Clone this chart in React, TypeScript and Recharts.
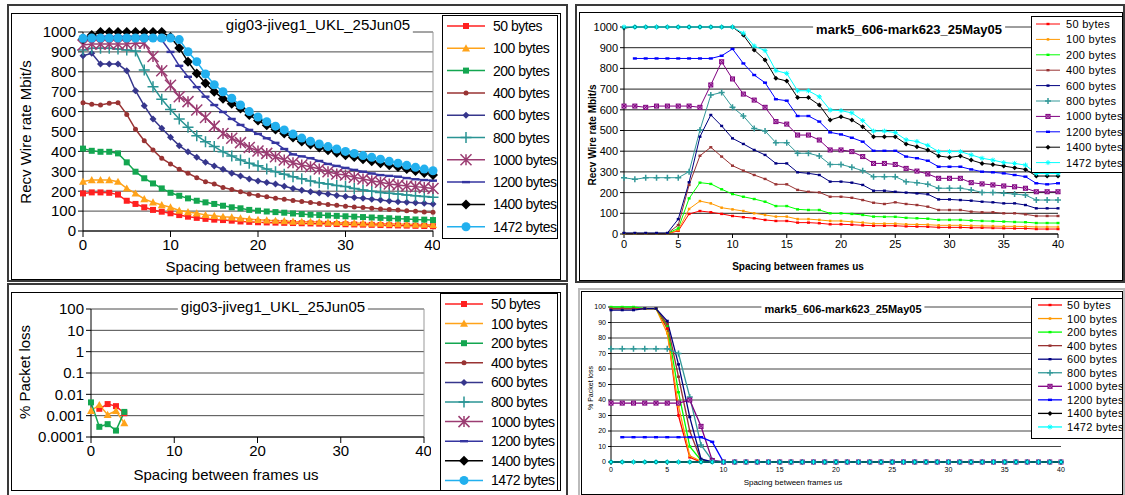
import React from 'react';
import { LineChart, Line, XAxis, YAxis, CartesianGrid, ReferenceLine } from 'recharts';

const FONT = '"Liberation Sans", Arial, Helvetica, sans-serif';

// x values: spacing between frames (us)
const spacing = [0, 1, 2, 3, 4, 5, 6, 7, 8, 9, 10, 11, 12, 13, 14, 15, 16, 17, 18, 19, 20, 21, 22, 23, 24, 25, 26, 27, 28, 29, 30, 31, 32, 33, 34, 35, 36, 37, 38, 39, 40];
const lossSpacing = [0, 1, 2, 3, 4];
const sizeLabels = ['50 bytes', '100 bytes', '200 bytes', '400 bytes', '600 bytes', '800 bytes', '1000 bytes', '1200 bytes', '1400 bytes', '1472 bytes'];
const keys = ['b50', 'b100', 'b200', 'b400', 'b600', 'b800', 'b1000', 'b1200', 'b1400', 'b1472'];

// gig03-jiveg1_UKL_25Jun05 : Recv wire rate (Mbit/s)
const gigRate50 = [189, 194, 194, 192, 183, 152, 136, 119, 106, 97, 89, 80, 72, 66, 61, 57, 55, 52, 48, 46, 44, 43, 42, 41, 40, 39, 38, 37, 36, 35, 34, 33, 32, 31, 30, 29, 28, 27, 26, 25, 24];
const gigRate100 = [249, 256, 256, 256, 248, 214, 189, 161, 144, 131, 119, 103, 95, 89, 81, 77, 72, 69, 64, 60, 56, 54, 52, 50, 48, 47, 46, 45, 43, 42, 41, 40, 39, 38, 37, 36, 35, 34, 33, 32, 31];
const gigRate200 = [414, 403, 398, 398, 390, 345, 298, 265, 239, 214, 192, 177, 164, 152, 144, 136, 127, 119, 114, 106, 102, 98, 95, 92, 88, 85, 82, 80, 78, 76, 74, 72, 70, 68, 66, 64, 62, 60, 58, 57, 55];
const gigRate400 = [645, 637, 633, 642, 645, 586, 511, 454, 407, 365, 337, 310, 290, 268, 248, 236, 219, 209, 197, 186, 178, 172, 165, 159, 153, 148, 143, 138, 133, 129, 125, 121, 118, 114, 111, 108, 105, 102, 99, 96, 94];
const gigRate600 = [881, 893, 839, 839, 839, 805, 705, 630, 563, 516, 471, 429, 398, 370, 345, 327, 310, 290, 276, 261, 251, 244, 236, 225, 214, 205, 197, 191, 186, 179, 173, 168, 164, 160, 156, 151, 147, 145, 142, 139, 136];
const gigRate800 = [910, 918, 918, 918, 915, 910, 904, 809, 725, 662, 611, 563, 521, 479, 449, 424, 398, 377, 357, 340, 328, 311, 298, 285, 273, 262, 251, 243, 236, 229, 223, 214, 206, 200, 194, 190, 186, 181, 177, 173, 169];
const gigRate1000 = [935, 940, 940, 940, 940, 940, 945, 943, 877, 805, 732, 675, 650, 608, 570, 527, 490, 466, 444, 420, 402, 390, 373, 357, 343, 332, 323, 312, 298, 286, 281, 270, 261, 253, 245, 236, 231, 226, 223, 218, 214];
const gigRate1200 = [975, 978, 978, 978, 978, 978, 978, 978, 975, 960, 900, 830, 775, 723, 675, 633, 598, 563, 533, 508, 488, 466, 443, 412, 385, 375, 366, 352, 337, 327, 317, 307, 298, 289, 281, 277, 273, 266, 260, 256, 253];
const gigRate1400 = [965, 985, 1000, 1000, 1000, 1000, 1000, 1000, 1000, 1000, 975, 920, 851, 792, 742, 700, 665, 640, 615, 583, 555, 532, 510, 490, 470, 450, 435, 420, 406, 393, 381, 372, 361, 351, 341, 331, 322, 312, 302, 292, 282];
const gigRate1472 = [968, 970, 970, 970, 970, 970, 970, 970, 970, 970, 970, 962, 901, 851, 789, 735, 700, 667, 633, 600, 573, 549, 527, 508, 487, 467, 451, 437, 424, 412, 400, 390, 379, 370, 361, 350, 341, 330, 320, 311, 303];

// gig03-jiveg1_UKL_25Jun05 : % packet loss
const gigLoss50 = [null, 0.0021, 0.0035, 0.0028, 0.0013];
const gigLoss100 = [0.0017, 0.0032, 0.0011, 0.0017, 0.00045];
const gigLoss200 = [0.0042, 0.0003, 0.0004, 0.0002, 0.0015];

// mark5_606-mark623_25May05 : Recv wire rate (Mbit/s)
const markRate50 = [2, 2, 2, 2, 2, 15, 97, 111, 105, 97, 87, 81, 76, 68, 63, 63, 55, 55, 52, 47, 47, 45, 42, 40, 40, 40, 37, 36, 35, 32, 32, 32, 30, 30, 29, 28, 27, 27, 24, 24, 24];
const markRate100 = [2, 2, 2, 2, 2, 19, 121, 159, 148, 127, 119, 111, 100, 92, 84, 84, 72, 72, 68, 63, 63, 59, 55, 50, 50, 50, 47, 46, 45, 42, 42, 42, 40, 39, 38, 37, 37, 36, 34, 34, 34];
const markRate200 = [3, 3, 3, 3, 3, 27, 172, 248, 242, 216, 193, 180, 169, 156, 135, 135, 119, 116, 116, 100, 100, 97, 92, 84, 83, 83, 78, 76, 74, 68, 68, 68, 65, 63, 62, 60, 58, 57, 53, 53, 53];
const markRate400 = [3, 3, 3, 3, 3, 43, 237, 378, 419, 374, 330, 306, 285, 266, 240, 240, 213, 204, 201, 180, 180, 175, 164, 151, 145, 153, 145, 140, 132, 116, 116, 116, 108, 105, 105, 100, 100, 95, 87, 87, 87];
const markRate600 = [5, 5, 5, 5, 5, 72, 250, 470, 575, 522, 462, 435, 406, 382, 341, 341, 298, 293, 285, 253, 253, 248, 237, 209, 209, 204, 200, 196, 192, 167, 167, 164, 161, 156, 153, 148, 148, 140, 124, 124, 124];
const markRate800 = [272, 264, 272, 272, 272, 272, 301, 502, 671, 684, 612, 570, 510, 498, 441, 441, 390, 390, 377, 336, 336, 322, 306, 277, 277, 277, 253, 248, 240, 221, 221, 221, 213, 201, 200, 197, 193, 188, 164, 164, 164];
const markRate1000 = [618, 618, 612, 618, 618, 618, 618, 612, 720, 832, 749, 676, 647, 612, 543, 531, 478, 478, 454, 406, 406, 398, 374, 341, 341, 336, 317, 304, 290, 269, 269, 269, 248, 242, 237, 232, 228, 221, 204, 204, 204];
const markRate1200 = [null, 848, 848, 848, 848, 848, 848, 848, 848, 861, 894, 824, 768, 731, 651, 644, 570, 570, 543, 491, 481, 465, 446, 402, 402, 402, 374, 366, 354, 325, 325, 325, 312, 301, 298, 293, 285, 277, 245, 240, 245];
const markRate1400 = [995, 1000, 1000, 1000, 1000, 1000, 1000, 1000, 1000, 1000, 1000, 961, 889, 841, 752, 739, 659, 659, 623, 551, 567, 551, 518, 470, 470, 470, 435, 422, 406, 377, 370, 377, 357, 341, 336, 328, 320, 312, 280, 280, 280];
const markRate1472 = [1000, 1000, 1000, 1000, 1000, 1000, 1000, 1000, 1000, 1000, 1000, 970, 908, 886, 789, 776, 692, 692, 663, 599, 596, 585, 548, 497, 497, 490, 455, 447, 428, 398, 398, 398, 382, 366, 357, 345, 341, 333, 292, 292, 292];

// mark5_606-mark623_25May05 : % packet loss
const markLoss50 = [99, 99, 99, 99, 99, 86, 30, 3, 0, 0, 0, 0, 0, 0, 0, 0, 0, 0, 0, 0, 0, 0, 0, 0, 0, 0, 0, 0, 0, 0, 0, 0, 0, 0, 0, 0, 0, 0, 0, 0, 0];
const markLoss100 = [99, 99, 99, 99, 99, 83, 36, 4, 0.5, 0, 0, 0, 0, 0, 0, 0, 0, 0, 0, 0, 0, 0, 0, 0, 0, 0, 0, 0, 0, 0, 0, 0, 0, 0, 0, 0, 0, 0, 0, 0, 0];
const markLoss200 = [100, 100, 100, 99, 99, 88, 45, 10, 1, 0, 0, 0, 0, 0, 0, 0, 0, 0, 0, 0, 0, 0, 0, 0, 0, 0, 0, 0, 0, 0, 0, 0, 0, 0, 0, 0, 0, 0, 0, 0, 0];
const markLoss400 = [99, 99, 99, 99, 99, 89, 55, 20, 1, 0, 0, 0, 0, 0, 0, 0, 0, 0, 0, 0, 0, 0, 0, 0, 0, 0, 0, 0, 0, 0, 0, 0, 0, 0, 0, 0, 0, 0, 0, 0, 0];
const markLoss600 = [98, 98, 98, 99, 99, 91, 63, 29, 2, 0, 0, 0, 0, 0, 0, 0, 0, 0, 0, 0, 0, 0, 0, 0, 0, 0, 0, 0, 0, 0, 0, 0, 0, 0, 0, 0, 0, 0, 0, 0, 0];
const markLoss800 = [73, 73, 73, 73, 73, 73, 70, 42, 11, 1, 0, 0, 0, 0, 0, 0, 0, 0, 0, 0, 0, 0, 0, 0, 0, 0, 0, 0, 0, 0, 0, 0, 0, 0, 0, 0, 0, 0, 0, 0, 0];
const markLoss1000 = [38, 38, 38, 38, 38, 38, 38, 40, 23, 1, 0, 0, 0, 0, 0, 0, 0, 0, 0, 0, 0, 0, 0, 0, 0, 0, 0, 0, 0, 0, 0, 0, 0, 0, 0, 0, 0, 0, 0, 0, 0];
const markLoss1200 = [null, 16, 16, 16, 16, 16, 16, 16, 16, 13, 0, 0, 0, 0, 0, 0, 0, 0, 0, 0, 0, 0, 0, 0, 0, 0, 0, 0, 0, 0, 0, 0, 0, 0, 0, 0, 0, 0, 0, 0, 0];
const markLoss1400 = [0, 0, 0, 0, 0, 0, 0, 0, 0, 0, 0, 0, 0, 0, 0, 0, 0, 0, 0, 0, 0, 0, 0, 0, 0, 0, 0, 0, 0, 0, 0, 0, 0, 0, 0, 0, 0, 0, 0, 0, 0];
const markLoss1472 = [0, 0, 0, 0, 0, 0, 0, 0, 0, 0, 0, 0, 0, 0, 0, 0, 0, 0, 0, 0, 0, 0, 0, 0, 0, 0, 0, 0, 0, 0, 0, 0, 0, 0, 0, 0, 0, 0, 0, 0, 0];

const rateTicksGig = [0, 100, 200, 300, 400, 500, 600, 700, 800, 900, 1000];
const lossTicksGig = [0.0001, 0.001, 0.01, 0.1, 1, 10, 100];
const lossTicksMark = [0, 10, 20, 30, 40, 50, 60, 70, 80, 90, 100];
const xTicksGig = [0, 10, 20, 30, 40];
const xTicksMark = [0, 5, 10, 15, 20, 25, 30, 35, 40];

type Shape = 'square' | 'triangle' | 'circle' | 'diamond' | 'plus' | 'star' | 'dash' | 'xbox' | 'asterisk';
interface SeriesStyle { color: string; shape: Shape; size: number }

const gigStyles: SeriesStyle[] = [
  { color: '#FF2020', shape: 'square', size: 6 },
  { color: '#FFA31A', shape: 'triangle', size: 8 },
  { color: '#13A650', shape: 'square', size: 6 },
  { color: '#993333', shape: 'circle', size: 5 },
  { color: '#36368C', shape: 'diamond', size: 7 },
  { color: '#2A9494', shape: 'plus', size: 11 },
  { color: '#9B3C72', shape: 'star', size: 11 },
  { color: '#3535A0', shape: 'dash', size: 8 },
  { color: '#000000', shape: 'diamond', size: 10 },
  { color: '#22B0EE', shape: 'circle', size: 9 },
];

const markStyles: SeriesStyle[] = [
  { color: '#FF0000', shape: 'dash', size: 3 },
  { color: '#FF9900', shape: 'square', size: 2.5 },
  { color: '#00FF00', shape: 'dash', size: 3 },
  { color: '#993333', shape: 'dash', size: 3 },
  { color: '#000080', shape: 'dash', size: 3 },
  { color: '#339999', shape: 'plus', size: 6 },
  { color: '#800080', shape: 'xbox', size: 4 },
  { color: '#0000FF', shape: 'dash', size: 4 },
  { color: '#000000', shape: 'diamond', size: 5 },
  { color: '#00FFFF', shape: 'asterisk', size: 5 },
];

function buildRows(xs: number[], cols: (number | null)[][]) {
  return xs.map((x, i) => {
    const r: Record<string, number | null> = { x };
    cols.forEach((c, k) => { r[keys[k]] = c[i] ?? null; });
    return r;
  });
}

const gigRateRows = buildRows(spacing, [gigRate50, gigRate100, gigRate200, gigRate400, gigRate600, gigRate800, gigRate1000, gigRate1200, gigRate1400, gigRate1472]);
const gigLossRows = buildRows(lossSpacing, [gigLoss50, gigLoss100, gigLoss200]);
const markRateRows = buildRows(spacing, [markRate50, markRate100, markRate200, markRate400, markRate600, markRate800, markRate1000, markRate1200, markRate1400, markRate1472]);
const markLossRows = buildRows(spacing, [markLoss50, markLoss100, markLoss200, markLoss400, markLoss600, markLoss800, markLoss1000, markLoss1200, markLoss1400, markLoss1472]);

function marker(s: SeriesStyle, cx: number, cy: number, key: string) {
  const h = s.size / 2;
  const c = s.color;
  switch (s.shape) {
    case 'square':
      return <rect key={key} x={cx - h} y={cy - h} width={s.size} height={s.size} fill={c} />;
    case 'triangle':
      return <polygon key={key} points={`${cx},${cy - h} ${cx + h},${cy + h * 0.8} ${cx - h},${cy + h * 0.8}`} fill={c} />;
    case 'circle':
      return <circle key={key} cx={cx} cy={cy} r={h} fill={c} />;
    case 'diamond':
      return <polygon key={key} points={`${cx},${cy - h} ${cx + h},${cy} ${cx},${cy + h} ${cx - h},${cy}`} fill={c} />;
    case 'plus':
      return <path key={key} d={`M${cx - h},${cy}H${cx + h}M${cx},${cy - h}V${cy + h}`} stroke={c} strokeWidth={1.5} />;
    case 'star':
      return <path key={key} d={`M${cx - h},${cy - h}L${cx + h},${cy + h}M${cx - h},${cy + h}L${cx + h},${cy - h}M${cx},${cy - h}V${cy + h}`} stroke={c} strokeWidth={1.5} fill="none" />;
    case 'asterisk':
      return <path key={key} d={`M${cx - h},${cy}H${cx + h}M${cx},${cy - h}V${cy + h}M${cx - h * 0.7},${cy - h * 0.7}L${cx + h * 0.7},${cy + h * 0.7}M${cx - h * 0.7},${cy + h * 0.7}L${cx + h * 0.7},${cy - h * 0.7}`} stroke={c} strokeWidth={1} fill="none" />;
    case 'xbox':
      return (
        <g key={key}>
          <rect x={cx - h} y={cy - h} width={s.size} height={s.size} fill="#D9A6D9" stroke={c} strokeWidth={1} />
          <path d={`M${cx - h},${cy - h}L${cx + h},${cy + h}M${cx - h},${cy + h}L${cx + h},${cy - h}`} stroke={c} strokeWidth={1} />
        </g>
      );
    case 'dash':
    default:
      return <rect key={key} x={cx - h} y={cy - 1.2} width={s.size} height={2.4} fill={c} />;
  }
}

const makeDot = (s: SeriesStyle, dataKey: string) => (p: any) => {
  const k = `${dataKey}-${p.index}`;
  const v = p.payload ? p.payload[dataKey] : null;
  if (v == null || p.cx == null || p.cy == null || Number.isNaN(p.cy)) return <g key={k} />;
  return marker(s, p.cx, p.cy, k);
};

function seriesLines(styles: SeriesStyle[], width: number) {
  return styles.map((s, i) => (
    <Line
      key={keys[i]}
      type="linear"
      dataKey={keys[i]}
      stroke={s.color}
      strokeWidth={width}
      dot={makeDot(s, keys[i])}
      activeDot={false}
      isAnimationActive={false}
    />
  ));
}

interface LegendProps {
  x: number; y: number; w: number; h: number;
  row0: number; gap: number; l1: number; l2: number; tx: number;
  fontSize: number; styles: SeriesStyle[]; lineWidth: number; spacingPx?: number;
}

function LegendBox({ x, y, w, h, row0, gap, l1, l2, tx, fontSize, styles, lineWidth, spacingPx = 0 }: LegendProps) {
  return (
    <svg style={{ position: 'absolute', left: x, top: y }} width={w} height={h}>
      <rect x={0.5} y={0.5} width={w - 1} height={h - 1} fill="#fff" stroke="#000" />
      {styles.map((s, i) => {
        const cy = row0 + i * gap;
        return (
          <g key={i}>
            <line x1={l1} x2={l2} y1={cy} y2={cy} stroke={s.color} strokeWidth={lineWidth} />
            {marker(s, (l1 + l2) / 2, cy, 'm' + i)}
            <text x={tx} y={cy} dominantBaseline="central" fontFamily={FONT} fontSize={fontSize} letterSpacing={spacingPx}>
              {sizeLabels[i]}
            </text>
          </g>
        );
      })}
    </svg>
  );
}

function Text({ x, y, size, bold, rotate, children, bg }: { x: number; y: number; size: number; bold?: boolean; rotate?: boolean; children: React.ReactNode; bg?: boolean }) {
  return (
    <div
      style={{
        position: 'absolute', left: x, top: y, fontFamily: FONT, fontSize: size, fontWeight: bold ? 700 : 400,
        whiteSpace: 'nowrap', lineHeight: 1.1, color: '#000',
        transform: `translate(-50%, -50%)${rotate ? ' rotate(-90deg)' : ''}`,
        background: bg ? '#fff' : 'transparent', padding: bg ? '0 3px' : 0,
      }}
    >
      {children}
    </div>
  );
}

function Frame({ x, y, w, h, width, color }: { x: number; y: number; w: number; h: number; width: number; color: string }) {
  return <div style={{ position: 'absolute', left: x, top: y, width: w, height: h, border: `${width}px solid ${color}`, boxSizing: 'border-box' }} />;
}

export default function App() {
  const tickGig = { fontSize: 15, fill: '#000', fontFamily: FONT };
  const tickMark = { fontSize: 11, fill: '#000', fontFamily: FONT };
  const tickLoss = { fontSize: 7, fill: '#000', fontFamily: FONT };
  return (
    <div style={{ position: 'absolute', left: 0, top: 0, width: 1125, height: 495, background: '#fff', overflow: 'hidden' }}>
      <Frame x={7} y={4} w={561} h={278} width={2} color="#3a3a3a" />
      <Frame x={11} y={13} w={550} h={267} width={1} color="#000" />
      <Frame x={7} y={283} w={561} h={214} width={2} color="#3a3a3a" />
      <Frame x={11} y={292} w={550} h={199} width={1} color="#000" />
      <Frame x={575} y={4} w={550} h={279} width={2} color="#3a3a3a" />
      <Frame x={579} y={12} w={544} h={269} width={1} color="#000" />
      <Frame x={578} y={288} w={547} h={209} width={2} color="#bbb" />
      <Frame x={581} y={291} w={542} h={204} width={1} color="#000" />

      {/* top left: gig03 wire rate */}
      <div style={{ position: 'absolute', left: 8, top: 5 }}>
        <LineChart width={432} height={270} data={gigRateRows} margin={{ top: 27, right: 7, bottom: 14, left: 0 }}>
          <CartesianGrid horizontal vertical={false} stroke="#4a4a4a" />
          <ReferenceLine x={40} stroke="#999" />
          <XAxis dataKey="x" type="number" domain={[0, 40]} ticks={xTicksGig} height={30} tick={tickGig} tickSize={6} stroke="#000" />
          <YAxis type="number" domain={[0, 1000]} ticks={rateTicksGig} width={75} tick={tickGig} tickSize={5} stroke="#000" interval={0} />
          {seriesLines(gigStyles, 1.5)}
        </LineChart>
      </div>
      <Text x={318} y={25} size={15} bg>gig03-jiveg1_UKL_25Jun05</Text>
      <Text x={258} y={267} size={15}>Spacing between frames us</Text>
      <Text x={26} y={132} size={15} rotate>Recv  Wire rate Mbit/s</Text>
      <LegendBox x={442} y={15} w={116} h={224} row0={11} gap={22.3} l1={5} l2={43} tx={51} fontSize={14} spacingPx={-0.5} styles={gigStyles} lineWidth={1.5} />

      {/* bottom left: gig03 packet loss */}
      <div style={{ position: 'absolute', left: 11, top: 293 }}>
        <LineChart width={420} height={190} data={gigLossRows} margin={{ top: 16, right: 7, bottom: 16, left: 0 }}>
          <CartesianGrid horizontal vertical={false} stroke="#4a4a4a" />
          <ReferenceLine x={40} stroke="#999" />
          <XAxis dataKey="x" type="number" domain={[0, 40]} ticks={xTicksGig} height={30} tick={tickGig} tickSize={6} stroke="#000" />
          <YAxis type="number" scale="log" domain={[0.0001, 100]} allowDataOverflow ticks={lossTicksGig} width={80} tick={tickGig} tickSize={5} stroke="#000" interval={0} />
          {seriesLines(gigStyles, 1.5)}
        </LineChart>
      </div>
      <Text x={273} y={307} size={15} bg>gig03-jiveg1_UKL_25Jun05</Text>
      <Text x={226} y={475} size={15}>Spacing between frames us</Text>
      <Text x={25} y={372} size={15} rotate>% Packet loss</Text>
      <LegendBox x={440} y={293} w={118} h={198} row0={11} gap={19.6} l1={5} l2={43} tx={51} fontSize={14} spacingPx={-0.5} styles={gigStyles} lineWidth={1.5} />

      {/* top right: mark5 wire rate */}
      <div style={{ position: 'absolute', left: 580, top: 12 }}>
        <LineChart width={485} height={268} data={markRateRows} margin={{ top: 15, right: 7, bottom: 20, left: 0 }}>
          <CartesianGrid horizontal vertical={false} stroke="#222" />
          <ReferenceLine y={1000} stroke="#aaa" />
          <XAxis dataKey="x" type="number" domain={[0, 40]} ticks={xTicksMark} height={26} tick={tickMark} tickSize={4} stroke="#000" />
          <YAxis type="number" domain={[0, 1000]} ticks={rateTicksGig} width={44} tick={tickMark} tickSize={4} stroke="#000" interval={0} />
          {seriesLines(markStyles, 1)}
        </LineChart>
      </div>
      <Text x={909} y={30} size={13} bold bg>mark5_606-mark623_25May05</Text>
      <Text x={798} y={266} size={10} bold>Spacing between frames us</Text>
      <Text x={592} y={135} size={10} bold rotate>Recv Wire rate Mbit/s</Text>
      <LegendBox x={1031} y={16} w={92} h={157} row0={8} gap={15.4} l1={5} l2={29} tx={35} fontSize={11} spacingPx={0.3} styles={markStyles} lineWidth={1} />

      {/* bottom right: mark5 packet loss */}
      <div style={{ position: 'absolute', left: 583, top: 292 }}>
        <LineChart width={485} height={195} data={markLossRows} margin={{ top: 15, right: 7, bottom: 10, left: 0 }}>
          <CartesianGrid horizontal vertical={false} stroke="#444" />
          <XAxis dataKey="x" type="number" domain={[0, 40]} ticks={xTicksMark} height={15} tick={tickLoss} tickSize={3} stroke="#000" />
          <YAxis type="number" domain={[0, 100]} ticks={lossTicksMark} width={28} tick={tickLoss} tickSize={3} stroke="#000" interval={0} />
          {seriesLines(markStyles, 1.3)}
        </LineChart>
      </div>
      <Text x={843} y={309} size={11} bold bg>mark5_606-mark623_25May05</Text>
      <Text x={793} y={483} size={8}>Spacing between frames us</Text>
      <Text x={591} y={388} size={7} rotate>% Packet loss</Text>
      <LegendBox x={1031} y={298} w={92} h={141} row0={7} gap={13.55} l1={7} l2={31} tx={36} fontSize={11} spacingPx={0.3} styles={markStyles} lineWidth={1.3} />
    </div>
  );
}
